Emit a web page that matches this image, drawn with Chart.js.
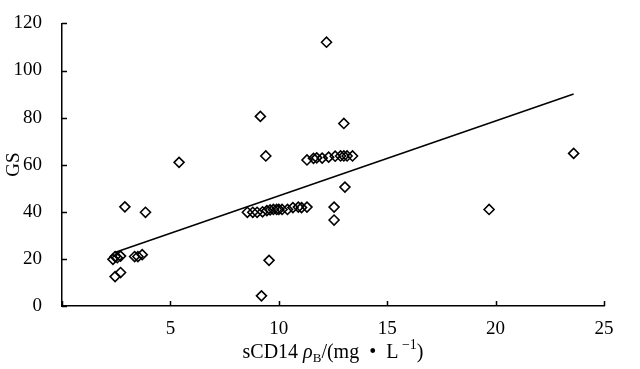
<!DOCTYPE html>
<html>
<head>
<meta charset="utf-8">
<script src="https://cdn.jsdelivr.net/npm/chart.js@4.4.0/dist/chart.umd.min.js"></script>
<style>
  html, body { margin: 0; padding: 0; background: #fff; }
  #wrap { width: 640px; height: 369px; }
</style>
</head>
<body>
<div id="wrap"><canvas id="chart" width="640" height="369"></canvas></div>
<script>
// sCD14 (mg/L) vs GS scatter
const sCD14 = [
  2.35, 2.45, 2.55, 2.7, 2.45, 2.7, 3.35, 3.5, 3.7,
  2.9, 3.85, 5.4,
  9.15, 9.4, 9.55, 9.2,
  8.55, 8.8, 9.0, 9.25, 9.45, 9.6, 9.75, 9.9, 10.0, 10.15, 10.4, 10.65, 10.9, 11.05, 11.3,
  12.55, 12.55, 13.05, 13.0, 12.2,
  11.3, 11.6, 11.75, 12.0, 12.3, 12.6, 12.85, 13.0, 13.15, 13.4,
  19.7, 23.6
];
const gsScore = [
  19.8, 21, 20.5, 21.2, 12.5, 14.2, 21, 21, 21.8,
  42.1, 39.8, 61,
  80.5, 63.7, 19.4, 4.3,
  39.8, 39.8, 39.8, 40, 40.5, 40.8, 41, 41, 41, 41, 41, 41.8, 42, 41.8, 42,
  42, 36.5, 50.5, 77.5, 112,
  62, 62.7, 62.9, 62.8, 63.2, 63.6, 63.7, 63.7, 63.7, 63.7,
  41, 64.8
];

// fitted line as drawn in the figure
const trendSlope = 3.18;
const trendIntercept = 15.0;
const trendXRange = [2.4, 23.6];

const xTicks = [0, 5, 10, 15, 20, 25];
const yTicks = [0, 20, 40, 60, 80, 100, 120];

const SERIF = '"Liberation Serif", "Times New Roman", serif';

const points = sCD14.map((x, i) => ({ x: x, y: gsScore[i] }));
const trend = trendXRange.map(x => ({ x: x, y: trendSlope * x + trendIntercept }));

// inward tick marks + x axis title with sub/superscript
const extras = {
  id: 'extras',
  afterDraw(chart) {
    const ctx = chart.ctx;
    const xs = chart.scales.x, ys = chart.scales.y;
    const area = chart.chartArea;
    ctx.save();
    ctx.strokeStyle = '#000';
    ctx.lineWidth = 1.5;
    ctx.beginPath();
    xTicks.forEach(v => {
      const px = Math.round(xs.getPixelForValue(v)) + 0.5;
      ctx.moveTo(px, area.bottom);
      ctx.lineTo(px, area.bottom - 5);
    });
    yTicks.forEach(v => {
      const py = Math.round(ys.getPixelForValue(v)) + 0.5;
      ctx.moveTo(area.left, py);
      ctx.lineTo(area.left + 5, py);
    });
    ctx.stroke();

    // x title: sCD14 ρB/(mg • L−1)
    const parts = [
      { t: 'sCD14 ', f: '20px ' + SERIF, dy: 0 },
      { t: 'ρ', f: 'italic 20px ' + SERIF, dy: 0 },
      { t: 'B', f: '13px ' + SERIF, dy: 4 },
      { t: '/(mg  •  L', f: '20px ' + SERIF, dy: 0 },
      { t: ' −1', f: '14px ' + SERIF, dy: -9 },
      { t: ')', f: '20px ' + SERIF, dy: 0 }
    ];
    let total = 0;
    parts.forEach(p => { ctx.font = p.f; p.w = ctx.measureText(p.t).width; total += p.w; });
    let x = 333 - total / 2;
    const base = 358;
    ctx.fillStyle = '#000';
    ctx.textBaseline = 'alphabetic';
    ctx.textAlign = 'left';
    parts.forEach(p => {
      ctx.font = p.f;
      ctx.fillText(p.t, x, base + p.dy);
      x += p.w;
    });
    ctx.restore();
  }
};

new Chart(document.getElementById('chart'), {
  type: 'scatter',
  data: {
    datasets: [
      {
        label: 'GS',
        data: points,
        pointStyle: 'rectRot',
        pointRadius: 5,
        pointHoverRadius: 5,
        borderColor: '#000',
        backgroundColor: 'rgba(0,0,0,0)',
        borderWidth: 1.6
      },
      {
        type: 'line',
        label: 'fit',
        data: trend,
        showLine: true,
        borderColor: '#000',
        borderWidth: 1.5,
        pointRadius: 0,
        fill: false
      }
    ]
  },
  plugins: [extras],
  options: {
    responsive: false,
    animation: false,
    devicePixelRatio: 1,
    layout: { padding: { top: 22, right: 36, left: 0, bottom: 0 } },
    plugins: { legend: { display: false }, tooltip: { enabled: false } },
    scales: {
      x: {
        type: 'linear',
        min: 0, max: 25,
        afterFit: s => { s.height = 63; },
        afterBuildTicks: s => { s.ticks = xTicks.map(v => ({ value: v })); },
        grid: { display: false },
        border: { display: true, color: '#000', width: 1.5 },
        ticks: {
          color: '#000',
          padding: 4,
          font: { family: SERIF, size: 19 },
          callback: v => (v === 0 ? '' : v)
        }
      },
      y: {
        min: 0, max: 120,
        afterFit: s => { s.width = 62; },
        afterBuildTicks: s => { s.ticks = yTicks.map(v => ({ value: v })); },
        grid: { display: false },
        border: { display: true, color: '#000', width: 1.5 },
        title: {
          display: true,
          text: 'GS',
          color: '#000',
          font: { family: SERIF, size: 19 },
          padding: { top: 3, bottom: 0 }
        },
        ticks: {
          color: '#000',
          padding: 12,
          font: { family: SERIF, size: 19 }
        }
      }
    }
  }
});
</script>
</body>
</html>
